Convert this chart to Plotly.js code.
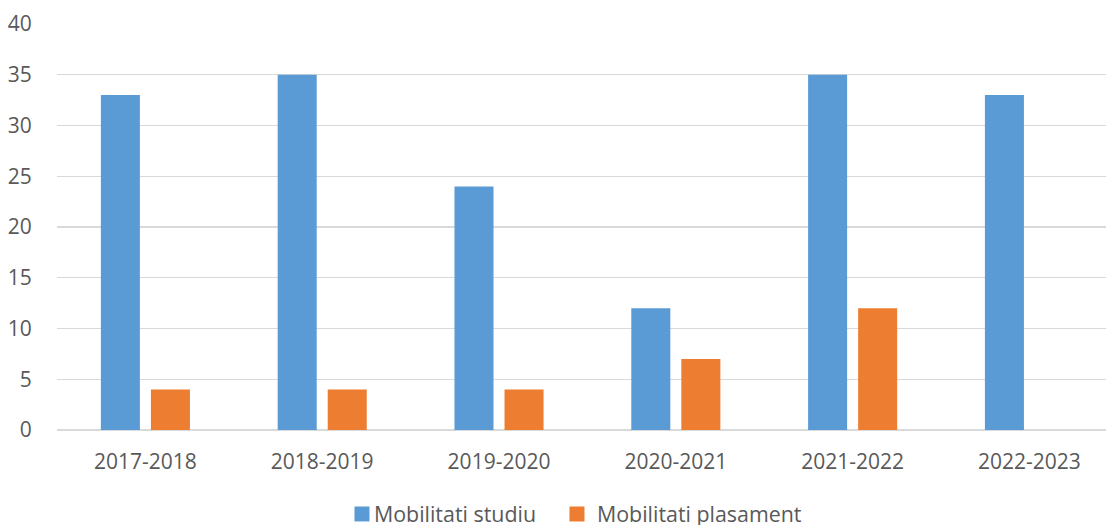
<!DOCTYPE html>
<html>
<head>
<meta charset="utf-8">
<script src="https://cdn.plot.ly/plotly-3.0.1.min.js"></script>
<style>html,body{margin:0;padding:0;background:#fff;overflow:hidden}#chart{width:1106px;height:525px}</style>
</head>
<body>
<div id="chart"></div>
<script>
const categories = ["2017-2018", "2018-2019", "2019-2020", "2020-2021", "2021-2022", "2022-2023"];
const studiu = [33, 35, 24, 12, 35, 33];
const plasament = [4, 4, 4, 7, 12, 0];
const yTicks = [0, 5, 10, 15, 20, 25, 30, 35, 40];

const font = {family: "Open Sans, sans-serif", size: 21, color: "#595959"};
const legendFont = {family: "Open Sans, sans-serif", size: 21.4, color: "#595959"};

const traces = [
  {type: "bar", name: "Mobilitati studiu", x: categories, y: studiu, marker: {color: "#5B9BD5"}, legend: "legend"},
  {type: "bar", name: "Mobilitati plasament", x: categories, y: plasament, marker: {color: "#ED7D31"}, legend: "legend2"}
];

const legendBase = {
  orientation: "h", xref: "container", xanchor: "left",
  yref: "paper", y: -0.207, yanchor: "middle",
  font: legendFont, itemclick: false, itemwidth: 30, bgcolor: "rgba(0,0,0,0)"
};

const layout = {
  width: 1106, height: 525,
  margin: {l: 57, r: 0, t: 24, b: 95, autoexpand: false},
  paper_bgcolor: "#fff", plot_bgcolor: "#fff",
  font: font,
  barmode: "group", bargap: 0.434, bargroupgap: 0.22,
  xaxis: {
    type: "category", range: [-0.5, 5.433],
    showgrid: false, showline: false, zeroline: false,
    ticks: "outside", ticklen: 13, tickcolor: "rgba(0,0,0,0)",
    tickfont: font
  },
  yaxis: {
    range: [0, 40], tickvals: yTicks,
    showgrid: true, gridcolor: "#D9D9D9", gridwidth: 1.3,
    zeroline: true, zerolinecolor: "#D9D9D9", zerolinewidth: 1.3,
    showline: false,
    ticks: "outside", ticklen: 20, tickcolor: "rgba(0,0,0,0)",
    tickfont: font
  },
  showlegend: true,
  legend: Object.assign({}, legendBase, {x: 0.3092}),
  legend2: Object.assign({}, legendBase, {x: 0.5036})
};

function tweakLegend() {
  // Reference-style swatches: 15px square with text close to it (both legends)
  document.querySelectorAll("#chart .legendpoints path").forEach(function (p) {
    p.setAttribute("d", "M7.5,7.5H-7.5V-7.5H7.5Z");
  });
  document.querySelectorAll("#chart .legendtext").forEach(function (t) {
    t.setAttribute("x", "32");
  });
}

Plotly.newPlot("chart", traces, layout, {staticPlot: true, displayModeBar: false}).then(function (gd) {
  tweakLegend();
  gd.on("plotly_afterplot", tweakLegend);
  setTimeout(tweakLegend, 0);
  setTimeout(tweakLegend, 100);
  setTimeout(tweakLegend, 400);
});
</script>
</body>
</html>
